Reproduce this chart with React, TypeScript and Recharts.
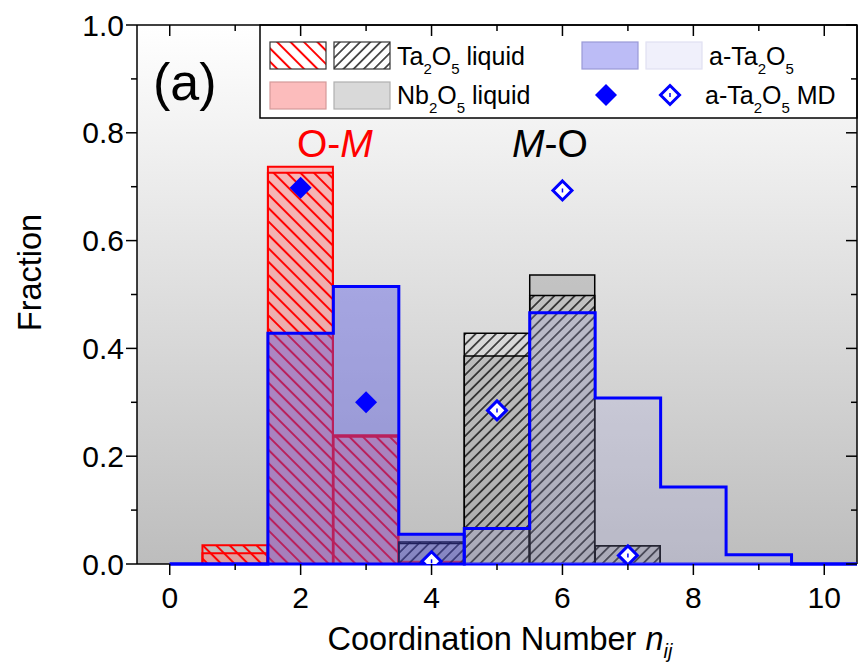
import React from 'react';
import { ComposedChart, Bar, Area, Scatter, XAxis, YAxis, ReferenceArea } from 'recharts';

// --- histogram data (bin = coordination number) ---
const bins = [0, 1, 2, 3, 4, 5, 6, 7, 8, 9, 10, 11];
const omNbLiquid = [0, 0.020, 0.737, 0.239, 0.004, 0, 0, 0, 0, 0, 0, 0];
const omTaLiquid = [0, 0.035, 0.726, 0.236, 0.003, 0, 0, 0, 0, 0, 0, 0];
const moNbLiquid = [0, 0, 0, 0, 0.038, 0.386, 0.536, 0.034, 0, 0, 0, 0];
const moTaLiquid = [0, 0, 0, 0, 0.041, 0.428, 0.498, 0.034, 0, 0, 0, 0];
const omAmorphous = [0, 0, 0.428, 0.515, 0.055, 0, 0, 0, 0, 0, 0, 0];
const moAmorphous = [0, 0, 0, 0, 0, 0.066, 0.466, 0.308, 0.143, 0.017, 0, 0];

// --- a-Ta2O5 MD points ---
const omMdBins = [2, 3];
const omMdValues = [0.698, 0.3];
const moMdBins = [4, 5, 6, 7];
const moMdValues = [0.005, 0.285, 0.693, 0.016];

const xTicks = [0, 1, 2, 3, 4, 5, 6, 7, 8, 9, 10];
const yTicks = [0, 0.1, 0.2, 0.3, 0.4, 0.5, 0.6, 0.7, 0.8, 0.9, 1.0];

const histogramRows = bins.map((bin, i) => ({
  bin,
  omNb: omNbLiquid[i],
  omTa: omTaLiquid[i],
  moNb: moNbLiquid[i],
  moTa: moTaLiquid[i],
  omA: omAmorphous[i],
  moA: moAmorphous[i],
}));
const omMdRows = omMdBins.map((bin, i) => ({ bin, frac: omMdValues[i] }));
const moMdRows = moMdBins.map((bin, i) => ({ bin, frac: moMdValues[i] }));

const FONT = '"Liberation Sans", Arial, Helvetica, sans-serif';
const X_DOMAIN: [number, number] = [-0.5, 10.5];
const AXIS_LINE = { stroke: '#000', strokeWidth: 1.5 };

// --- tick renderers ---
const BottomTick = (props: any) => {
  const { x, y, payload } = props;
  const major = payload.value % 2 === 0;
  return (
    <g>
      <line x1={x} y1={y} x2={x} y2={y + (major ? 11 : 6)} stroke="#000" strokeWidth={1.5} />
      {major && (
        <text x={x} y={y + 44} textAnchor="middle" fontSize={30} fontFamily={FONT} fill="#000">
          {payload.value}
        </text>
      )}
    </g>
  );
};

const TopTick = (props: any) => {
  const { x, y, payload } = props;
  const major = payload.value % 2 === 0;
  return <line x1={x} y1={y} x2={x} y2={y + (major ? 11 : 6)} stroke="#000" strokeWidth={1.5} />;
};

const LeftTick = (props: any) => {
  const { x, y, payload } = props;
  const major = Math.round(payload.value * 10) % 2 === 0;
  return (
    <g>
      <line x1={x} y1={y} x2={x - (major ? 11 : 6)} y2={y} stroke="#000" strokeWidth={1.5} />
      {major && (
        <text x={x - 13} y={y + 10.5} textAnchor="end" fontSize={30} fontFamily={FONT} fill="#000">
          {payload.value.toFixed(1)}
        </text>
      )}
    </g>
  );
};

const RightTick = (props: any) => {
  const { x, y, payload } = props;
  const major = Math.round(payload.value * 10) % 2 === 0;
  return <line x1={x} y1={y} x2={x - (major ? 11 : 6)} y2={y} stroke="#000" strokeWidth={1.5} />;
};

// --- axis titles ---
const XTitle = (props: any) => {
  const { viewBox } = props;
  const cx = viewBox.x + viewBox.width / 2;
  return (
    <text x={cx + 3} y={viewBox.y + 86} textAnchor="middle" fontSize={32.5} fontFamily={FONT} fill="#000">
      {'Coordination Number '}
      <tspan fontStyle="italic">n</tspan>
      <tspan fontStyle="italic" fontSize={20} dy={8}>ij</tspan>
    </text>
  );
};

const YTitle = (props: any) => {
  const { viewBox } = props;
  const cy = viewBox.y + viewBox.height / 2 - 22;
  return (
    <text x={41} y={cy} transform={`rotate(-90, 41, ${cy})`} textAnchor="middle" fontSize={32.5} fontFamily={FONT} fill="#000">
      Fraction
    </text>
  );
};

// --- markers ---
const FilledDiamond = (props: any) => {
  const { cx, cy } = props;
  const r = 11;
  return <polygon points={`${cx},${cy - r} ${cx + r},${cy} ${cx},${cy + r} ${cx - r},${cy}`} fill="#0000ff" />;
};

const OpenDiamond = (props: any) => {
  const { cx, cy } = props;
  const r = 9.5;
  return (
    <g>
      <polygon points={`${cx},${cy - r} ${cx + r},${cy} ${cx},${cy + r} ${cx - r},${cy}`} fill="#fff" stroke="#0000ff" strokeWidth={3} />
      <line x1={cx} y1={cy - 2} x2={cx} y2={cy + 2} stroke="#0000ff" strokeWidth={1.5} />
    </g>
  );
};

// --- legend + annotations, drawn inside the chart svg ---
const LegendBox = () => (
  <g fontFamily={FONT} fontSize={25} fill="#000">
    <rect x={260} y={25} width={597} height={93} fill="#fff" stroke="#000" strokeWidth={1.5} />
    <rect x={270} y={42} width={56} height={27} fill="url(#hatchRed)" stroke="#333" strokeWidth={1.2} />
    <rect x={334} y={42} width={56} height={27} fill="url(#hatchBlack)" stroke="#333" strokeWidth={1.2} />
    <rect x={270} y={82} width={56} height={27} fill="#fcbcbc" stroke="#d49a9a" strokeWidth={1.2} />
    <rect x={334} y={82} width={56} height={27} fill="#d9d9d9" stroke="#b0b0b0" strokeWidth={1.2} />
    <rect x={582} y={42} width={56} height={27} fill="#bcbcf6" stroke="#9a9ad8" strokeWidth={1.2} />
    <rect x={646} y={42} width={56} height={27} fill="#f0f0fb" stroke="#e0e0f2" strokeWidth={1.2} />
    <text x={397} y={65}>
      Ta<tspan fontSize={15} dy={9}>2</tspan>
      <tspan dy={-9}>O</tspan>
      <tspan fontSize={15} dy={9}>5</tspan>
      <tspan dy={-9}>{' liquid'}</tspan>
    </text>
    <text x={397} y={104}>
      Nb<tspan fontSize={15} dy={9}>2</tspan>
      <tspan dy={-9}>O</tspan>
      <tspan fontSize={15} dy={9}>5</tspan>
      <tspan dy={-9}>{' liquid'}</tspan>
    </text>
    <text x={709} y={65}>
      a-Ta<tspan fontSize={15} dy={9}>2</tspan>
      <tspan dy={-9}>O</tspan>
      <tspan fontSize={15} dy={9}>5</tspan>
    </text>
    <text x={705} y={104}>
      a-Ta<tspan fontSize={15} dy={9}>2</tspan>
      <tspan dy={-9}>O</tspan>
      <tspan fontSize={15} dy={9}>5</tspan>
      <tspan dy={-9}>{' MD'}</tspan>
    </text>
    <FilledDiamond cx={606} cy={95} />
    <OpenDiamond cx={670} cy={95} />
  </g>
);

const Annotations = () => (
  <g fontFamily={FONT}>
    <text x={153} y={100} fontSize={52} fill="#000">(a)</text>
    <text x={297} y={157} fontSize={39} fill="#ff0000">
      O-<tspan fontStyle="italic">M</tspan>
    </text>
    <text x={512} y={157} fontSize={39} fill="#000">
      <tspan fontStyle="italic">M</tspan>-O
    </text>
  </g>
);

export default function App() {
  return (
    <div style={{ position: 'absolute', left: 0, top: 0, width: 858, height: 668, background: '#fff' }}>
      <ComposedChart
        width={858}
        height={668}
        data={histogramRows}
        margin={{ top: 24, right: 0, bottom: 0, left: 0 }}
        barCategoryGap={0}
        barGap={0}
      >
        <defs>
          <linearGradient id="plotBg" x1="0" y1="0" x2="0" y2="1">
            <stop offset="0" stopColor="#ffffff" />
            <stop offset="1" stopColor="#bdbdbd" />
          </linearGradient>
          <pattern id="hatchRed" patternUnits="userSpaceOnUse" width={9.5} height={9.5} patternTransform="rotate(-45)">
            <line x1={4.75} y1={0} x2={4.75} y2={9.5} stroke="#ff0000" strokeWidth={2} />
          </pattern>
          <pattern id="hatchBlack" patternUnits="userSpaceOnUse" width={7.2} height={7.2} patternTransform="rotate(45)">
            <line x1={3.6} y1={0} x2={3.6} y2={7.2} stroke="#000" strokeWidth={1.3} />
          </pattern>
        </defs>

        {/* plot background */}
        <ReferenceArea xAxisId="main" x1={-0.5} x2={10.5} y1={0} y2={1} fill="url(#plotBg)" fillOpacity={1} stroke="none" zIndex={-50} />

        <LegendBox />
        <Annotations />

        {/* liquid histograms */}
        <Bar xAxisId="b1" dataKey="omNb" fill="#ff8080" fillOpacity={0.5} stroke="#ff0000" strokeWidth={2} isAnimationActive={false} />
        <Bar xAxisId="b2" dataKey="omTa" fill="url(#hatchRed)" stroke="#ff0000" strokeWidth={2} isAnimationActive={false} />
        <Bar xAxisId="b3" dataKey="moNb" fill="#808080" fillOpacity={0.3} stroke="#000" strokeWidth={1.5} isAnimationActive={false} />
        <Bar xAxisId="b4" dataKey="moTa" fill="url(#hatchBlack)" stroke="#000" strokeWidth={1.5} isAnimationActive={false} />

        {/* a-Ta2O5 histograms as step outlines (right axis: same scale, x-only clipping) */}
        <Area
          xAxisId="main"
          yAxisId="right"
          type="step"
          dataKey="omA"
          stroke="#0000ff"
          strokeWidth={3}
          fill="#5050e6"
          fillOpacity={0.4}
          isAnimationActive={false}
          zIndex={550}
        />
        <Area
          xAxisId="main"
          yAxisId="right"
          type="step"
          dataKey="moA"
          stroke="#0000ff"
          strokeWidth={3}
          fill="#aaaae6"
          fillOpacity={0.22}
          isAnimationActive={false}
          zIndex={550}
        />

        <XAxis
          xAxisId="main"
          type="number"
          dataKey="bin"
          domain={X_DOMAIN}
          allowDataOverflow
          ticks={xTicks}
          interval={0}
          height={104}
          tickSize={0}
          tickMargin={0}
          tickLine={false}
          tick={<BottomTick />}
          stroke="#000"
          axisLine={AXIS_LINE}
          label={<XTitle />}
        />
        <XAxis
          xAxisId="top"
          orientation="top"
          type="number"
          dataKey="bin"
          domain={X_DOMAIN}
          allowDataOverflow
          ticks={xTicks}
          interval={0}
          height={1}
          tickSize={0}
          tickMargin={0}
          tickLine={false}
          tick={<TopTick />}
          stroke="#000"
          axisLine={AXIS_LINE}
        />
        <XAxis xAxisId="b1" type="number" dataKey="bin" domain={X_DOMAIN} allowDataOverflow height={0} hide />
        <XAxis xAxisId="b2" type="number" dataKey="bin" domain={X_DOMAIN} allowDataOverflow height={0} hide />
        <XAxis xAxisId="b3" type="number" dataKey="bin" domain={X_DOMAIN} allowDataOverflow height={0} hide />
        <XAxis xAxisId="b4" type="number" dataKey="bin" domain={X_DOMAIN} allowDataOverflow height={0} hide />
        <YAxis
          type="number"
          domain={[0, 1]}
          allowDataOverflow
          ticks={yTicks}
          interval={0}
          width={137}
          tickSize={0}
          tickMargin={0}
          tickLine={false}
          tick={<LeftTick />}
          stroke="#000"
          axisLine={AXIS_LINE}
          label={<YTitle />}
        />
        <YAxis
          yAxisId="right"
          orientation="right"
          type="number"
          domain={[0, 1]}
          ticks={yTicks}
          interval={0}
          width={1}
          tickSize={0}
          tickMargin={0}
          tickLine={false}
          tick={<RightTick />}
          stroke="#000"
          axisLine={AXIS_LINE}
        />

        {/* a-Ta2O5 MD */}
        <Scatter xAxisId="main" data={omMdRows} dataKey="frac" shape={<FilledDiamond />} isAnimationActive={false} zIndex={650} />
        <Scatter xAxisId="main" data={moMdRows} dataKey="frac" shape={<OpenDiamond />} isAnimationActive={false} zIndex={650} />
      </ComposedChart>
    </div>
  );
}
